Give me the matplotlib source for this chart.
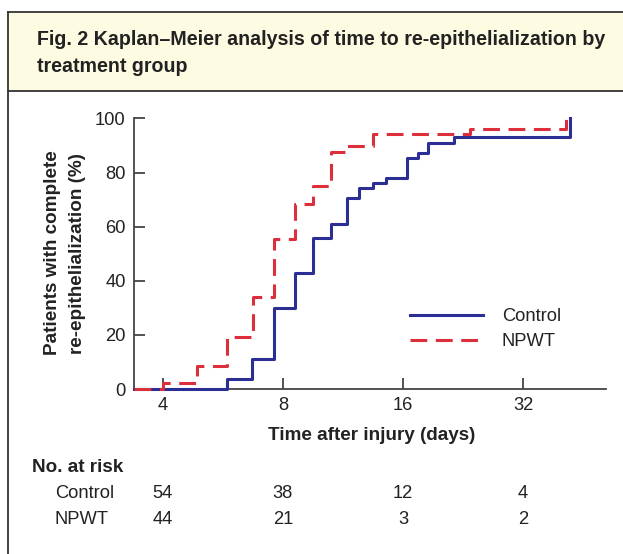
import matplotlib
matplotlib.use("Agg")
import matplotlib.pyplot as plt
from matplotlib.lines import Line2D
from matplotlib.patches import Rectangle

plt.rcParams['font.family'] = ['Liberation Sans', 'DejaVu Sans']

# ---- data ----
start_day = 3.39
control_days = [start_day, 5.8, 6.7, 7.6, 8.58, 9.53, 10.54, 11.55, 12.43, 13.43,
                14.5, 16.4, 17.4, 18.5, 21.5, 41.9]
control_pct = [0, 3.6, 11.1, 29.8, 42.9, 55.8, 61.1, 70.7, 74.4, 76.3,
               78.1, 85.5, 87.3, 91.0, 93.0, 100]
npwt_days = [start_day, 4.0, 4.88, 5.79, 6.72, 7.6, 8.58, 9.53, 10.54, 11.46,
             13.43, 23.5, 40.9]
npwt_pct = [0, 2.3, 8.5, 19.3, 34.0, 55.6, 68.3, 74.9, 87.8, 89.8,
            94.1, 96.1, 100]
x_ticks = [4, 8, 16, 32]
y_ticks = [0, 20, 40, 60, 80, 100]
risk_groups = ["Control", "NPWT"]
risk_control = [54, 38, 12, 4]
risk_npwt = [44, 21, 3, 2]

W, H = 623, 554
fig = plt.figure(figsize=(W / 100, H / 100), dpi=100)

def fx(x):
    return x / W

def fy(y):
    return 1 - y / H

BLUE = "#2B2F93"
RED = "#DC2F3B"
TXT = "#222222"
AX = "#444444"
FS = 13.2     # normal text
FB = 13.6     # bold labels

# ---- frame and title box ----
fig.patches.append(Rectangle((fx(8), fy(91)), 1.2, fy(12) - fy(91),
                             transform=fig.transFigure, facecolor="#FDFBE1",
                             edgecolor="none", zorder=0))
for xs, ys in [((8, 640), (12, 12)), ((8, 640), (91, 91)), ((8, 8), (12, 560))]:
    fig.lines.append(Line2D([fx(v) for v in xs], [fy(v) for v in ys],
                            transform=fig.transFigure, color="#333333", lw=1.3))

fig.text(fx(37), fy(45), "Fig. 2 Kaplan–Meier analysis of time to re-epithelialization by",
         fontsize=14.1, fontweight="bold", color=TXT, va="baseline", ha="left")
fig.text(fx(37), fy(72), "treatment group",
         fontsize=14.1, fontweight="bold", color=TXT, va="baseline", ha="left")

# ---- axes ----
ax_l, ax_r, ax_t, ax_b = 134, 606, 118.5, 389
ax = fig.add_axes([fx(ax_l), fy(ax_b), fx(ax_r) - fx(ax_l), fy(ax_t) - fy(ax_b)])
ax.set_xscale("log", base=2)
ax.set_xlim(start_day, 51.6)
ax.set_ylim(0, 100)
ax.patch.set_alpha(0)

ax.step(control_days, control_pct, where="post", color=BLUE, lw=2.2,
        clip_on=False, label="Control", zorder=3)
ax.step(npwt_days, npwt_pct, where="post", color=RED, lw=2.2,
        dashes=(5.5, 2.8), clip_on=False, label="NPWT", zorder=4)

ax.set_xticks(x_ticks)
ax.set_xticklabels([str(t) for t in x_ticks])
ax.xaxis.set_minor_locator(matplotlib.ticker.NullLocator())
ax.set_yticks(y_ticks)
ax.tick_params(direction="in", length=8, width=1.3, colors=AX,
               labelcolor=TXT, labelsize=FS)
ax.tick_params(axis="x", pad=6)
ax.tick_params(axis="y", pad=6)
for s in ["top", "right"]:
    ax.spines[s].set_visible(False)
for s in ["left", "bottom"]:
    ax.spines[s].set_color(AX)
    ax.spines[s].set_linewidth(1.3)

leg = ax.legend(loc="upper left", frameon=False, fontsize=FS,
                handlelength=4.0, handletextpad=1.0, labelspacing=0.45,
                borderpad=0, borderaxespad=0)
for t in leg.get_texts():
    t.set_color(TXT)
leg.set_bbox_to_anchor((fx(410), fy(308)), transform=fig.transFigure)

# axis labels
fig.text(fx(372), fy(435), "Time after injury (days)", fontsize=FB, fontweight="bold",
         color=TXT, ha="center", va="center")
fig.text(fx(53), fy(253), "Patients with complete", fontsize=FB, fontweight="bold",
         color=TXT, ha="center", va="center", rotation=90)
fig.text(fx(77), fy(253), "re-epithelialization (%)", fontsize=FB, fontweight="bold",
         color=TXT, ha="center", va="center", rotation=90)

# ---- number at risk table ----
fig.text(fx(32), fy(467), "No. at risk", fontsize=FB, fontweight="bold",
         color=TXT, ha="left", va="center")
for row_y, name, vals in [(493, risk_groups[0], risk_control), (520, risk_groups[1], risk_npwt)]:
    fig.text(fx(55), fy(row_y), name, fontsize=FS, color=TXT, ha="left", va="center")
    for t, v in zip(x_ticks, vals):
        xd = ax.transData.transform((t, 0))[0]
        xf = fig.transFigure.inverted().transform((xd, 0))[0]
        fig.text(xf, fy(row_y), str(v), fontsize=FS, color=TXT, ha="center", va="center")

fig.savefig("out.png", dpi=100)
